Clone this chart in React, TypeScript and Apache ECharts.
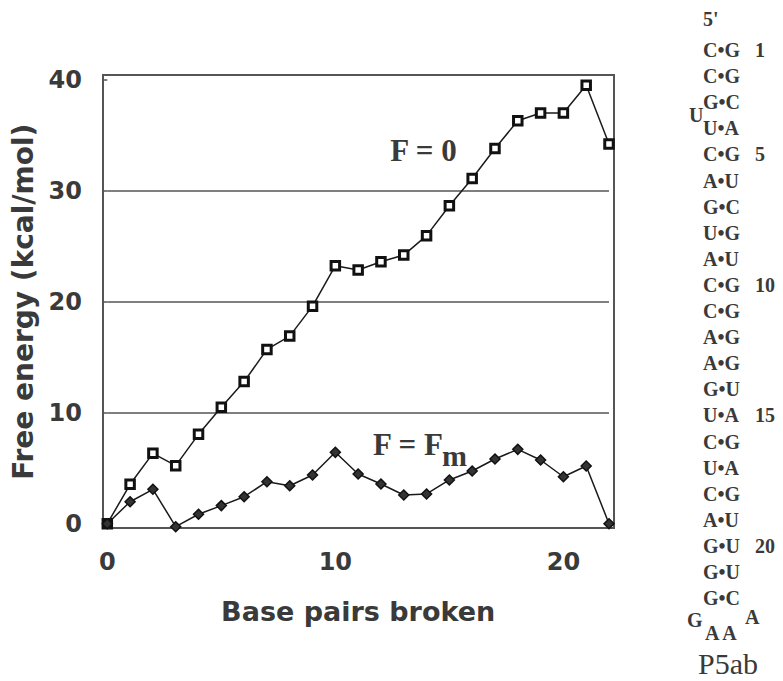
import React, { useEffect, useRef } from "react";
import * as echarts from "echarts";

// ---- data ----
const basePairsBroken = [0, 1, 2, 3, 4, 5, 6, 7, 8, 9, 10, 11, 12, 13, 14, 15, 16, 17, 18, 19, 20, 21, 22];
const energyF0 = [0, 3.55, 6.34, 5.23, 8.05, 10.49, 12.8, 15.7, 16.9, 19.6, 23.24, 22.85, 23.6, 24.2, 25.95, 28.65, 31.1, 33.8, 36.3, 37.0, 37.0, 39.5, 34.2];
const energyFm = [0, 1.98, 3.1, -0.27, 0.85, 1.63, 2.43, 3.78, 3.42, 4.39, 6.43, 4.48, 3.58, 2.59, 2.68, 3.94, 4.75, 5.83, 6.7, 5.74, 4.23, 5.2, 0];
const yTicks = [0, 10, 20, 30, 40];
const xTicks = [0, 10, 20];

// P5ab helix (top to bottom)
const helixPairs = ["C•G", "C•G", "G•C", "U•A", "C•G", "A•U", "G•C", "U•G", "A•U", "C•G", "C•G", "A•G", "A•G", "G•U", "U•A", "C•G", "U•A", "C•G", "A•U", "G•U", "G•U", "G•C"];
const helixNumbers = ["1", "", "", "", "5", "", "", "", "", "10", "", "", "", "", "15", "", "", "", "", "20", "", ""];

const TEXT = "#3a3a3a";
const SANS = "DejaVu Sans";
const SERIF = "Liberation Serif";

export default function App() {
  const ref = useRef<HTMLDivElement>(null);
  useEffect(() => {
    if (!ref.current) return;
    const chart = echarts.init(ref.current, undefined, { renderer: "svg" });

    const rowTop = 50;
    const rowStep = 26.1;
    const helixTexts: any[] = [];
    helixPairs.forEach((p, i) => {
      helixTexts.push({
        type: "text",
        x: 703,
        y: rowTop + i * rowStep,
        style: { text: p, fill: TEXT, fontFamily: SERIF, fontWeight: "bold", fontSize: 20, align: "left", verticalAlign: "middle" },
      });
      if (helixNumbers[i]) {
        helixTexts.push({
          type: "text",
          x: 755,
          y: rowTop + i * rowStep,
          style: { text: helixNumbers[i], fill: TEXT, fontFamily: SERIF, fontWeight: "bold", fontSize: 20, align: "left", verticalAlign: "middle" },
        });
      }
    });
    const serifText = (text: string, x: number, y: number, size: number, align = "left", weight = "bold") => ({
      type: "text",
      x,
      y,
      style: { text, fill: TEXT, fontFamily: SERIF, fontWeight: weight, fontSize: size, align, verticalAlign: "middle" },
    });

    chart.setOption({
      animation: false,
      backgroundColor: "#fff",
      grid: { left: 107.3, top: 79.7, right: 174, bottom: 157.3, containLabel: false },
      xAxis: {
        type: "value",
        min: 0,
        max: 22,
        interval: 10,
        offset: 4.3,
        axisLine: { show: false },
        axisTick: { show: false },
        splitLine: { show: false },
        axisLabel: {
          showMaxLabel: false,
          margin: 22,
          fontFamily: SANS,
          fontWeight: "bold",
          fontSize: 24,
          color: TEXT,
          formatter: (v: number) => (xTicks.includes(v) ? String(v) : ""),
        },
        name: "Base pairs broken",
        nameLocation: "middle",
        nameGap: 70,
        nameTextStyle: { fontFamily: SANS, fontWeight: "bold", fontSize: 27, color: TEXT },
      },
      yAxis: {
        type: "value",
        min: 0,
        max: 40,
        interval: 10,
        offset: 4.3,
        axisLine: { show: false },
        axisTick: { show: true, length: 4, lineStyle: { color: "#555", width: 1.5 } },
        splitLine: { show: true, lineStyle: { color: ["transparent", "#555", "#555", "#555", "transparent"], width: 1.6 } },
        axisLabel: {
          margin: 21,
          fontFamily: SANS,
          fontWeight: "bold",
          fontSize: 24,
          color: TEXT,
          formatter: (v: number) => (yTicks.includes(v) ? String(v) : ""),
        },
        name: "Free energy (kcal/mol)",
        nameLocation: "middle",
        nameRotate: 90,
        nameGap: 66,
        nameTextStyle: { fontFamily: SANS, fontWeight: "bold", fontSize: 28, color: TEXT },
      },
      graphic: [
        {
          type: "rect",
          z: -1,
          shape: { x: 103, y: 75, width: 511, height: 453 },
          style: { fill: "none", stroke: "#555", lineWidth: 2 },
        },
        serifText("F = 0", 423.5, 150, 31, "center"),
        serifText("F = F", 373, 444, 31, "left"),
        serifText("m", 442, 455, 30, "left"),
        serifText("5'", 703, 19, 20, "left"),
        serifText("U", 689, 115, 20, "left"),
        ...helixTexts,
        serifText("G", 687, 620, 20, "left"),
        serifText("A A", 705, 633, 20, "left"),
        serifText("A", 745, 617, 20, "left"),
        serifText("P5ab", 728, 663, 30, "center", "normal"),
      ],
      series: [
        {
          name: "F = 0",
          type: "line",
          clip: false,
          data: basePairsBroken.map((x, i) => [x, energyF0[i]]),
          symbol: "rect",
          symbolSize: 8.5,
          lineStyle: { color: "#1a1a1a", width: 1.5 },
          itemStyle: { color: "#fff", borderColor: "#111", borderWidth: 3 },
          z: 3,
        },
        {
          name: "F = Fm",
          type: "line",
          clip: false,
          data: basePairsBroken.map((x, i) => [x, energyFm[i]]),
          symbol: "diamond",
          symbolSize: 10,
          lineStyle: { color: "#1a1a1a", width: 1.5 },
          itemStyle: { color: "#333", borderColor: "#111", borderWidth: 1.5 },
          z: 3,
        },
      ],
    });
    return () => chart.dispose();
  }, []);
  return <div ref={ref} style={{ position: "absolute", left: 0, top: 0, width: 783, height: 681 }} />;
}
